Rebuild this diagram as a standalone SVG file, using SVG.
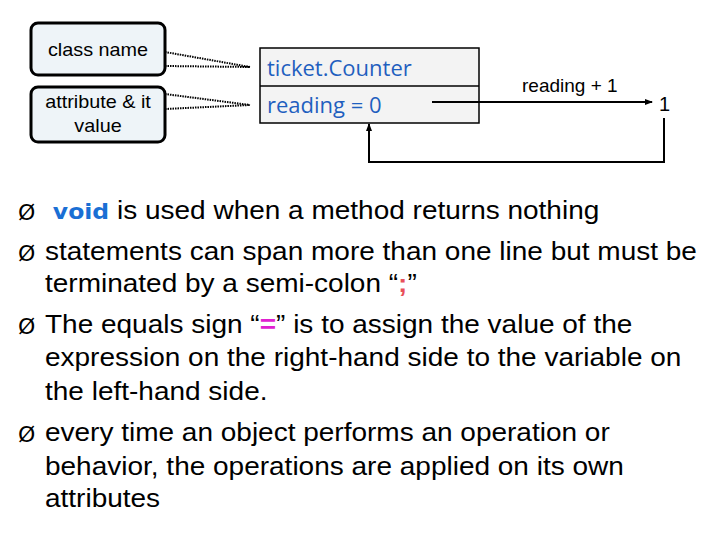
<svg xmlns="http://www.w3.org/2000/svg" width="720" height="540" viewBox="0 0 720 540">
<style>
.call{fill:#eef4f8;stroke:#000;stroke-width:3}
.cl{font-family:"Liberation Sans",Arial,sans-serif;font-size:18px;fill:#000;text-anchor:middle}
.lead{stroke:#000;stroke-width:2;stroke-dasharray:1.5 1;fill:none}
.bt{font-family:"Liberation Sans",Arial,sans-serif;font-size:25px;fill:#000}
.bl{font-family:"DejaVu Sans",sans-serif;font-size:22px;fill:#000}
.ln{stroke:#000;stroke-width:2;fill:none}
</style>
<defs><marker id="ah" markerWidth="8" markerHeight="8" refX="7" refY="4" orient="auto" markerUnits="userSpaceOnUse"><path d="M0,1 L8,4 L0,7 Z" fill="#000"/></marker></defs>
<rect width="720" height="540" fill="#fff"/>
<g id="classname"><rect class="call" x="31" y="23" width="134" height="52" rx="7"/><text class="cl" x="98" y="56" transform="translate(98,0) scale(1.1,1) translate(-98,0)">class name</text></g>
<g id="attr"><rect class="call" x="31" y="87" width="134" height="55" rx="7"/><text class="cl" x="98" y="108" transform="translate(98,0) scale(1.1,1) translate(-98,0)">attribute &amp; it</text><text class="cl" x="98" y="132" transform="translate(98,0) scale(1.1,1) translate(-98,0)">value</text></g>
<g id="obj"><rect x="260" y="48" width="219" height="75" fill="#f3f3f3" stroke="#000" stroke-width="1.5"/><line x1="260" y1="86" x2="479" y2="86" stroke="#000" stroke-width="1.5"/>
<text x="267" y="76" style="font-family:'Open Sans','Liberation Sans',sans-serif;font-size:22px;fill:#1f5fbf">ticket.Counter</text>
<text x="267" y="113" style="font-family:'Open Sans','Liberation Sans',sans-serif;font-size:22px;fill:#1f5fbf">reading = 0</text></g>
<g id="connectors">
<path class="lead" d="M165,52 L250,67 M165,66 L250,67 M165,94 L250,105 M165,109 L250,105"/>
<line class="ln" x1="432" y1="102" x2="652" y2="102" marker-end="url(#ah)"/>
<path class="ln" d="M664,118 V162 H369 V124" marker-end="url(#ah)"/>
</g>
<text x="522" y="92" style="font-family:'Liberation Sans',Arial,sans-serif;font-size:19px">reading + 1</text>
<text x="659" y="111" style="font-family:'Liberation Sans',Arial,sans-serif;font-size:20px">1</text>
<g id="bullets">
<text class="bl" x="18" y="220">Ø</text><text class="bl" x="18" y="261">Ø</text><text class="bl" x="18" y="334">Ø</text><text class="bl" x="18" y="442">Ø</text>
<g transform="translate(45,0) scale(1.12,1) translate(-45,0)">
<text class="bt" x="45" y="219"><tspan x="52" style="font-family:'DejaVu Sans',sans-serif;font-weight:bold;font-size:21px;fill:#1a6fd4">void</tspan> is used when a method returns nothing</text>
<text class="bt" x="45" y="260">statements can span more than one line but must be</text>
<text class="bt" x="45" y="292">terminated by a semi-colon “<tspan style="fill:#e8505b;font-weight:bold">;</tspan>”</text>
<text class="bt" x="45" y="333">The equals sign “<tspan style="fill:#e020d0;font-weight:bold">=</tspan>” is to assign the value of the</text>
<text class="bt" x="45" y="366">expression on the right-hand side to the variable on</text>
<text class="bt" x="45" y="400">the left-hand side.</text>
<text class="bt" x="45" y="441">every time an object performs an operation or</text>
<text class="bt" x="45" y="475">behavior, the operations are applied on its own</text>
<text class="bt" x="45" y="507">attributes</text>
</g>
</g>
</svg>
